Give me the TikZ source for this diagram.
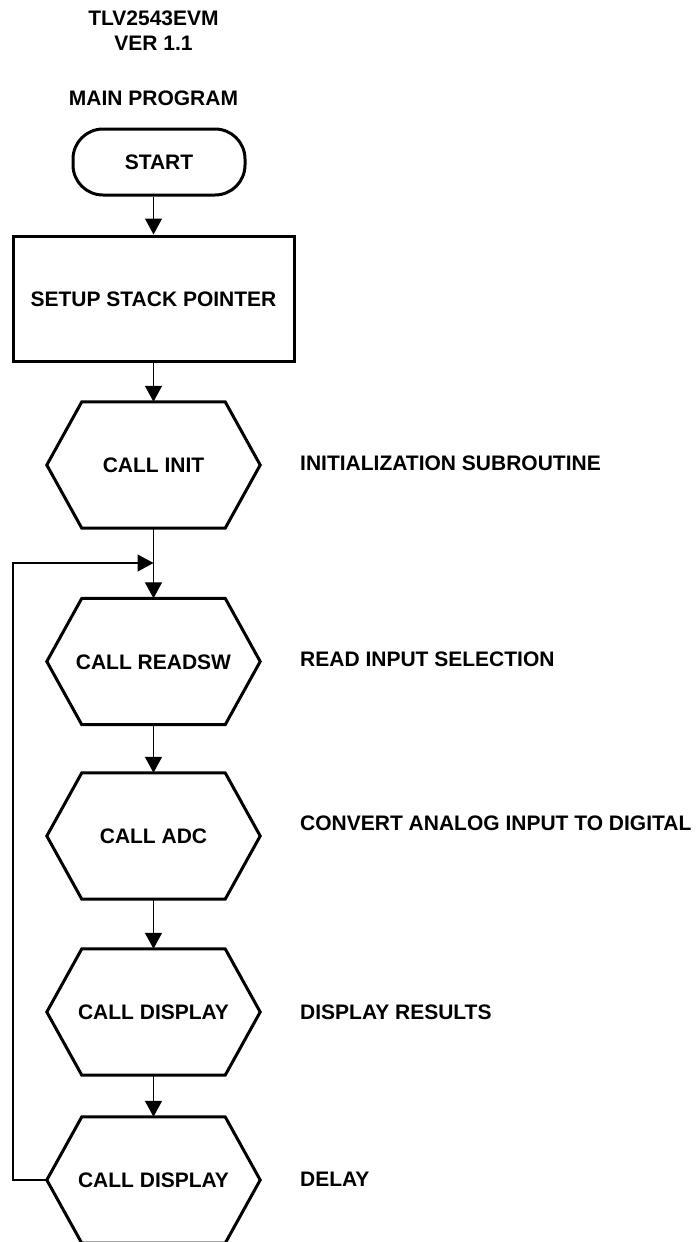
\documentclass[tikz,border=0pt]{standalone}
\usepackage{fontspec}
\setmainfont{Liberation Sans}
\usetikzlibrary{arrows.meta}
\begin{document}
\begin{tikzpicture}[x=1pt,y=-1pt,
  txt/.style={font=\fontsize{21}{25}\selectfont\bfseries, inner sep=0pt, text height=15.1pt, text depth=0pt},
  outline/.style={line width=3pt, line join=miter},
  hexnode/.style={txt, minimum width=213pt, minimum height=126pt},
  termnode/.style={txt, draw, outline, rounded corners=30pt, minimum width=172pt, minimum height=66pt},
  boxnode/.style={txt, draw, outline, minimum width=281pt, minimum height=125pt},
  lbl/.style={txt, anchor=west},
  conn/.style={line width=1.3pt, -{Triangle[width=17pt,length=16pt]}}
]
\useasboundingbox (0,0) rectangle (700,1242);

\node[txt] (t1) at (153.5,17.5) {TLV2543EVM};
\node[txt] (t2) at (153.5,43) {VER 1.1};
\node[txt] (t3) at (153.5,98) {MAIN PROGRAM};

\node[termnode] (start) at (159,162) {START};
\node[boxnode] (setup) at (153.5,298.5) {SETUP STACK POINTER};
\node[hexnode] (init) at (153.5,465) {CALL INIT};
\node[hexnode] (readsw) at (153.5,661.5) {CALL READSW};
\node[hexnode] (adc) at (153.5,836) {CALL ADC};
\node[hexnode] (disp) at (153.5,1012) {CALL DISPLAY};
\node[hexnode] (delay) at (153.5,1180) {CALL DISPLAY};

\foreach \n in {init,readsw,adc,disp,delay}
  \draw[outline] (\n.west) -- ([xshift=35pt]\n.north west) -- ([xshift=-35pt]\n.north east)
    -- (\n.east) -- ([xshift=-35pt]\n.south east) -- ([xshift=35pt]\n.south west) -- cycle;

\node[lbl] (l1) at (300,463) {INITIALIZATION SUBROUTINE};
\node[lbl] (l2) at (300,659) {READ INPUT SELECTION};
\node[lbl] (l3) at (300,823) {CONVERT ANALOG INPUT TO DIGITAL};
\node[lbl] (l4) at (300,1012) {DISPLAY RESULTS};
\node[lbl] (l5) at (300,1179) {DELAY};

\coordinate (join) at (153.5,563);
\coordinate (loopx) at (13,0);

\draw[conn] (start.south -| setup.north) -- (setup.north);
\draw[conn] (setup.south) -- (init.north);
\draw[conn] (init.south) -- (readsw.north);
\draw[conn] (readsw.south) -- (adc.north);
\draw[conn] (adc.south) -- (disp.north);
\draw[conn] (disp.south) -- (delay.north);
\draw[conn] (delay.west) -- (delay.west -| loopx) |- (join);
\end{tikzpicture}
\end{document}
